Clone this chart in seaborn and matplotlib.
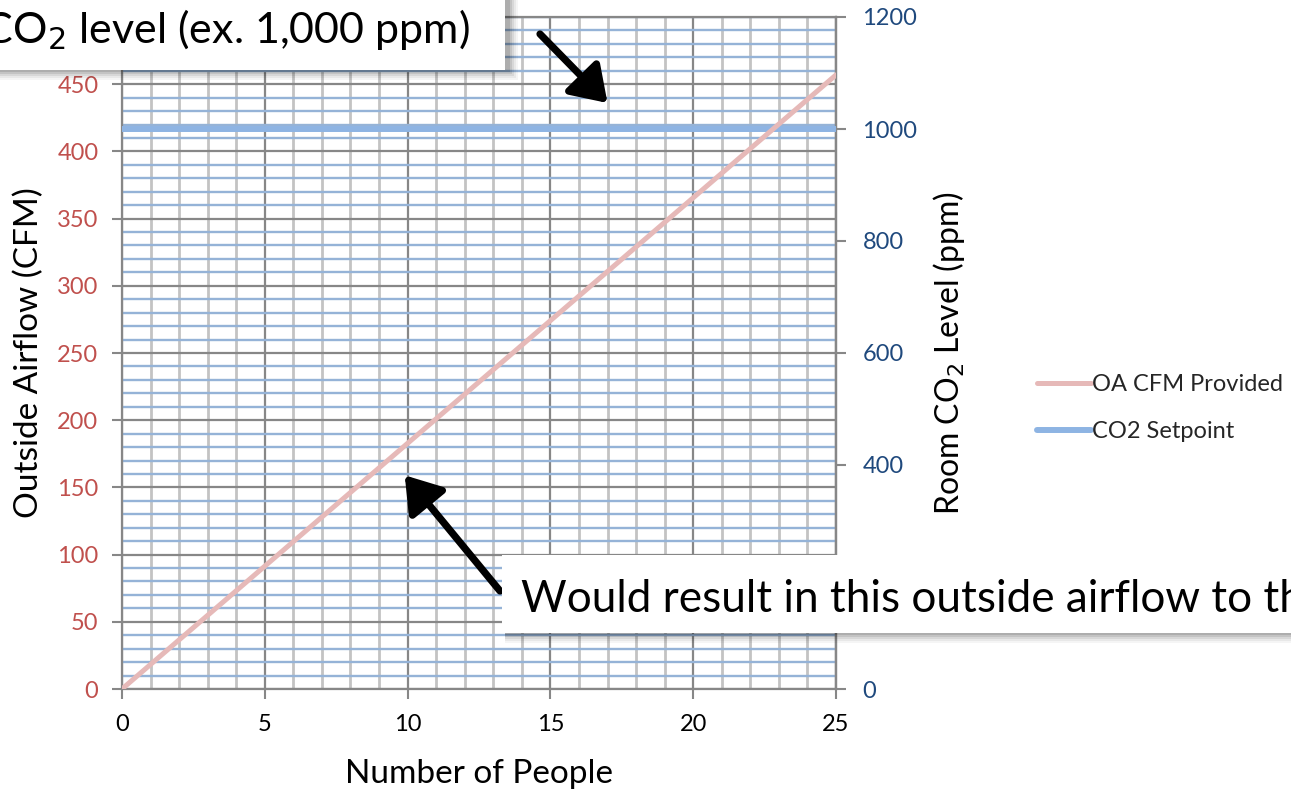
import matplotlib
matplotlib.use("Agg")
import matplotlib.pyplot as plt
from matplotlib.patches import Rectangle
from matplotlib.ticker import MultipleLocator
import seaborn as sns
import pandas as pd

# Data
people = [0, 5, 10, 15, 20, 25]
oa_cfm = [0, 91.4, 182.8, 274.1, 365.5, 456.9]
setpoint_people = [0, 25]
co2_setpoint = [1000, 1000]
legend_labels = ["OA CFM Provided", "CO2 Setpoint"]
cfm_ticks = [0, 50, 100, 150, 200, 250, 300, 350, 400, 450]
ppm_ticks = [0, 200, 400, 600, 800, 1000, 1200]
people_ticks = [0, 5, 10, 15, 20, 25]

sns.set_theme(style="white")
plt.rcParams["font.family"] = ["Lato", "DejaVu Sans"]

PINK = "#E6B9B8"
BLUE = "#8EB4E3"
RED_TXT = "#C0504D"
NAVY_TXT = "#1F497D"
GRID_GRAY = "#878787"

plt.rcParams.update({
    "xtick.labelsize": 17,
    "ytick.labelsize": 17,
    "xtick.major.size": 7,
    "ytick.major.size": 7,
    "xtick.major.width": 1.5,
    "ytick.major.width": 1.5,
    "xtick.minor.size": 0,
    "ytick.minor.size": 0,
    "xtick.major.pad": 11,
    "ytick.major.pad": 10,
    "xtick.direction": "out",
    "ytick.direction": "out",
    "xtick.color": GRID_GRAY,
    "ytick.color": GRID_GRAY,
    "xtick.labelcolor": "black",
    "xtick.bottom": True,
    "ytick.left": True,
})

W, H = 1291, 789
fig = plt.figure(figsize=(W / 100, H / 100), dpi=100)
ax = fig.add_axes([122 / W, 1 - 689 / H, (836 - 122) / W, (689 - 17) / H])
ax2 = ax.twinx()   # ppm scale (setpoint)
ax3 = ax.twinx()   # CFM scale again, so the airflow line sits on top
ax3.set_ylim(0, 500)
ax3.axis("off")

df1 = pd.DataFrame({"people": people, "cfm": oa_cfm})
df2 = pd.DataFrame({"people": setpoint_people, "ppm": co2_setpoint})

sns.lineplot(data=df2, x="people", y="ppm", ax=ax2, color=BLUE, linewidth=4.3, zorder=5)
sns.lineplot(data=df1, x="people", y="cfm", ax=ax3, color=PINK, linewidth=3.6, zorder=5)

ax.set_xlim(0, 25)
ax.set_xticks(people_ticks)
ax.set_xticklabels([str(v) for v in people_ticks])
ax.xaxis.set_minor_locator(MultipleLocator(1))
ax.set_yticks(cfm_ticks)
ax.set_yticklabels([str(v) for v in cfm_ticks])
ax.yaxis.set_minor_locator(MultipleLocator(10))
ax.set_ylim(0, 500)
ax3.set_ylim(0, 500)
ax2.set_yticks(ppm_ticks)
ax2.set_yticklabels([str(v) for v in ppm_ticks])
ax2.set_ylim(0, 1200)

# Grid: gray majors, light gray vertical minors, blue horizontal minors
ax.grid(False)
ax2.grid(False)
ax.grid(which="minor", axis="y", color="#95B3D7", linewidth=1.7, zorder=0)
ax.grid(which="minor", axis="x", color="#C3C3C3", linewidth=2.0, zorder=0)
ax.grid(which="major", axis="both", color=GRID_GRAY, linewidth=1.6, zorder=1)
ax.set_axisbelow(True)
ax.axhline(500, color=GRID_GRAY, linewidth=1.6, zorder=1)

for s in ax.spines.values():
    s.set_color(GRID_GRAY)
    s.set_linewidth(1.6)
for s in ax2.spines.values():
    s.set_visible(False)
ax2.spines["right"].set_visible(True)
ax2.spines["right"].set_color(GRID_GRAY)
ax2.spines["right"].set_linewidth(1.6)

ax.tick_params(axis="y", labelcolor=RED_TXT)
ax.tick_params(axis="x", labelcolor="black")
ax2.tick_params(axis="y", labelcolor=NAVY_TXT, pad=12, right=True)

ax.set_xlabel("Number of People", fontsize=24, color="black")
ax.set_ylabel("Outside Airflow (CFM)", fontsize=24, color="black")
ax2.set_ylabel("Room CO$_2$ Level (ppm)", fontsize=23, color="black")
ax.xaxis.label.set_verticalalignment("center")
ax.yaxis.label.set_verticalalignment("center")
ax2.yaxis.label.set_verticalalignment("center")
ax.xaxis.set_label_coords(0.5, (689 - 774) / 672)
ax.yaxis.set_label_coords((29 - 122) / 714, 0.5)
ax2.yaxis.set_label_coords((949 - 122) / 714, 0.5)

for a in (ax, ax2, ax3):
    if a.get_legend():
        a.get_legend().remove()
handles = [ax3.get_lines()[0], ax2.get_lines()[0]]
fig.legend(handles, legend_labels, loc="center left",
           bbox_to_anchor=(1037 / W, 1 - 408 / H), frameon=False, borderpad=0,
           borderaxespad=0, fontsize=17, handlelength=2.3, handletextpad=0.05,
           labelspacing=1.1)

# Callout boxes with soft drop shadows
def callout(x0, y0, x1, y1):
    for i, a in enumerate([0.04, 0.05, 0.07, 0.09, 0.11]):
        off = 10 - 2 * i
        fig.add_artist(Rectangle(((x0 + 3) / W, 1 - (y1 + off) / H),
                                 (x1 - x0 + off) / W, (y1 - y0) / H,
                                 transform=fig.transFigure, facecolor="black",
                                 edgecolor="none", alpha=a, zorder=8))
    fig.add_artist(Rectangle((x0 / W, 1 - y1 / H), (x1 - x0) / W, (y1 - y0) / H,
                             transform=fig.transFigure, facecolor="white",
                             edgecolor="none", zorder=9))

callout(-20, -20, 505, 70)
callout(502, 555, 1320, 633)

fig.text(470 / W, 1 - 43 / H, "Setpoint CO$_2$ level (ex. 1,000 ppm)",
         ha="right", va="baseline", fontsize=31, color="black", zorder=10)
fig.text(521 / W, 1 - 612 / H, "Would result in this outside airflow to the space",
         ha="left", va="baseline", fontsize=31.8, color="black", zorder=10)

arrow = dict(arrowstyle="-|>,head_length=0.75,head_width=0.5", lw=5.2,
             color="black", shrinkA=0, shrinkB=0, mutation_scale=28)
ax3.annotate("", xy=(17.0, 436), xytext=(540, H - 34), textcoords="figure pixels",
             arrowprops=arrow, zorder=11, annotation_clip=False)
ax3.annotate("", xy=(9.9, 159), xytext=(500, H - 591), textcoords="figure pixels",
             arrowprops=arrow, zorder=11, annotation_clip=False)

fig.savefig("out.png", dpi=100)
